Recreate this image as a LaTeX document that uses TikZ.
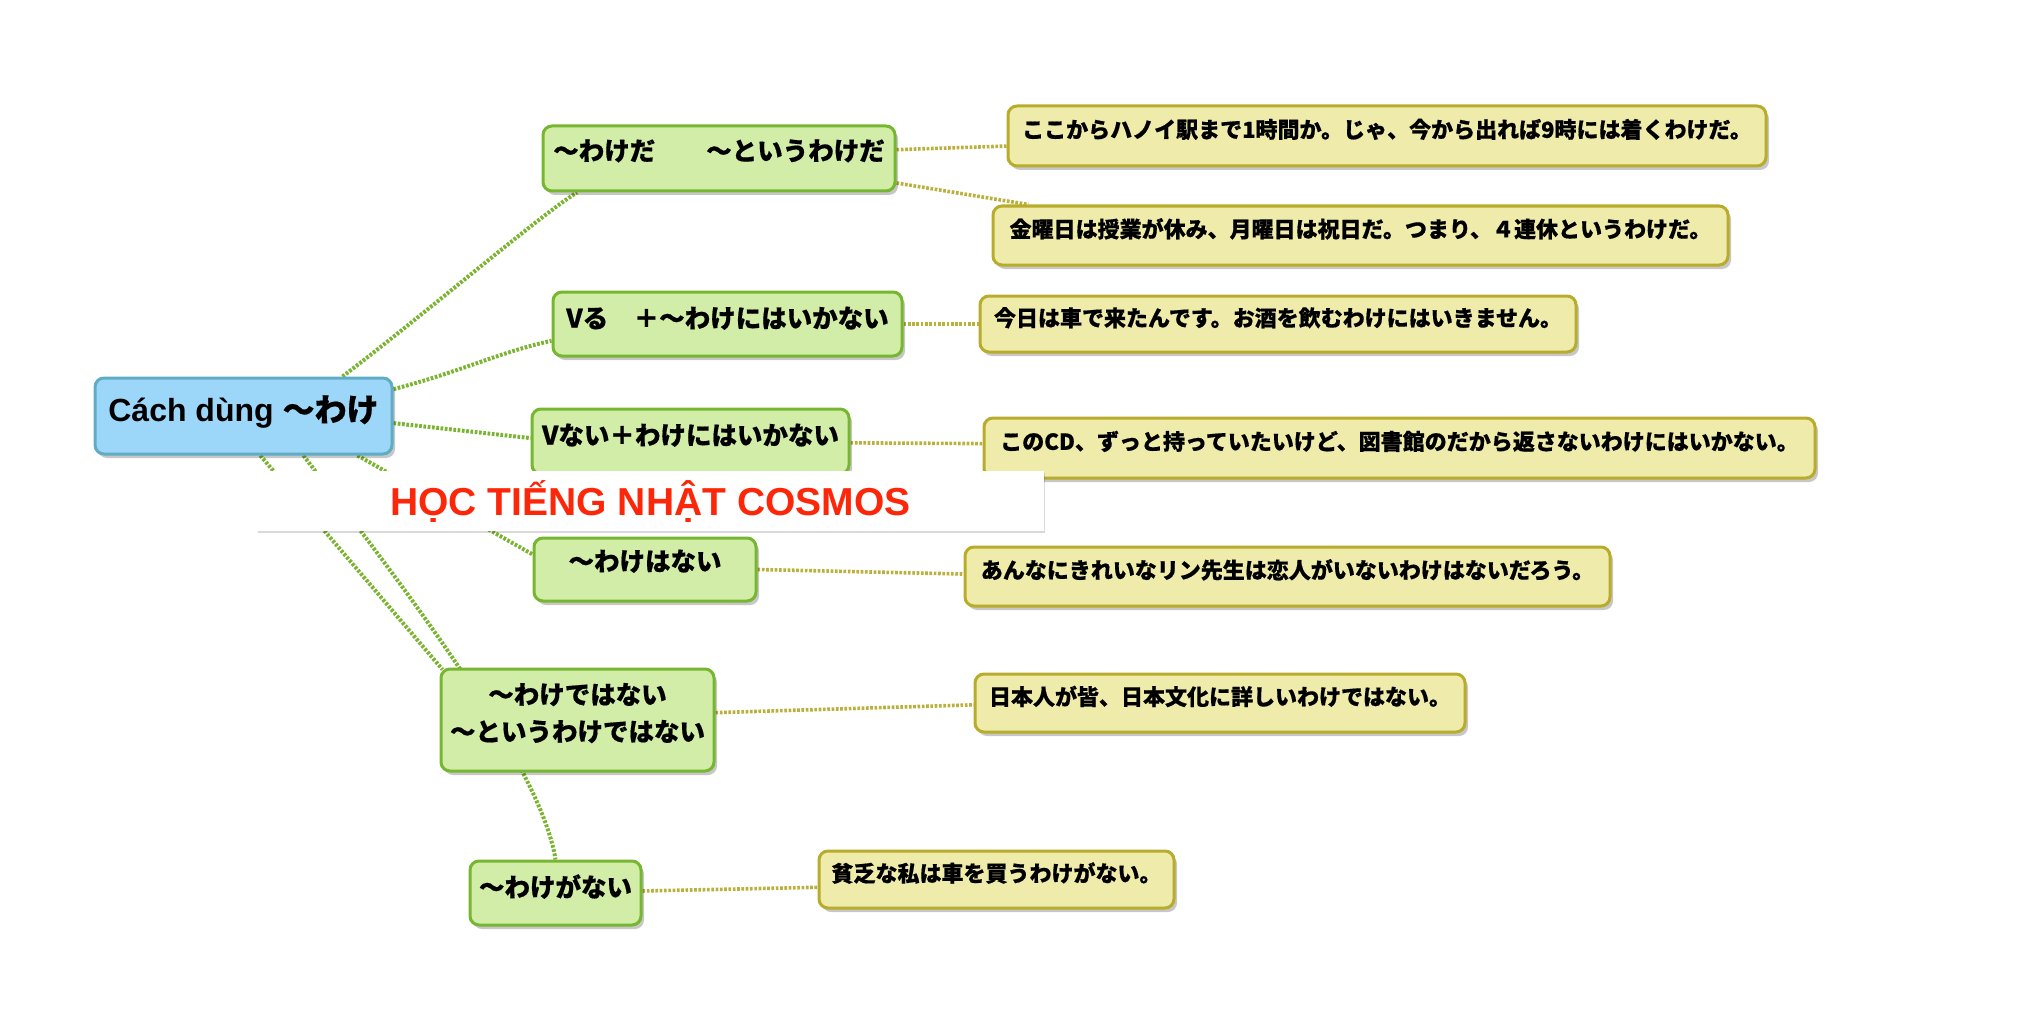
\documentclass[tikz,border=0pt]{standalone}
\usepackage{fontspec}
\setmainfont{Liberation Sans}
\newfontfamily\jp{Noto Sans CJK JP}[BoldFeatures={FakeBold=0.6}]
\usetikzlibrary{shadows,calc}
\definecolor{rootfill}{RGB}{156,215,249}
\definecolor{rootline}{RGB}{96,172,196}
\definecolor{gfill}{RGB}{210,237,168}
\definecolor{gline}{RGB}{118,182,48}
\definecolor{yfill}{RGB}{239,235,170}
\definecolor{yline}{RGB}{184,172,44}
\definecolor{glink}{RGB}{122,180,48}
\definecolor{ylink}{RGB}{186,176,60}
\definecolor{banred}{RGB}{252,38,8}
\pgfdeclarelayer{bg}
\pgfsetlayers{bg,main}
\begin{document}
\begin{tikzpicture}[x=0.5pt,y=-0.5pt,
  shad/.style={drop shadow={shadow xshift=1.5pt,shadow yshift=-2pt,fill=black,opacity=0.22}},
  rootbox/.style={draw=rootline,fill=rootfill,line width=1.5pt,rounded corners=4.5pt,inner sep=0pt,shad,font=\bfseries\fontsize{16}{19}\selectfont},
  catbox/.style={draw=gline,fill=gfill,line width=1.5pt,rounded corners=4.5pt,inner sep=0pt,shad,font=\jp\bfseries\fontsize{12.75}{15}\selectfont},
  exbox/.style={draw=yline,fill=yfill,line width=1.5pt,rounded corners=4.5pt,inner sep=0pt,shad,font=\jp\bfseries\fontsize{11}{13}\selectfont},
  glinkst/.style={draw=glink,line width=2pt,dash pattern=on 1.35pt off 0.8pt},
  ylinkst/.style={draw=ylink,line width=1.8pt,dash pattern=on 1.35pt off 0.8pt},
]
\useasboundingbox (0,0) rectangle (2036,1022);

% root
\node[rootbox,minimum width=148.5pt,text height=21.75pt,text depth=16.25pt] (root) at (243.5,416) {Cách dùng {\jp ～わけ}};

% categories
\node[catbox,minimum width=176pt,text height=17.15pt,text depth=15.35pt] (n1) at (719,158.5) {～わけだ　　～というわけだ};
\node[catbox,minimum width=174.5pt,text height=17.85pt,text depth=14.15pt] (n2) at (727.5,324) {Vる　＋～わけにはいかない};
\node[catbox,minimum width=158.5pt,text height=17.85pt,text depth=14.65pt] (n3) at (690.5,441.5) {Vない＋わけにはいかない};
\node[catbox,minimum width=111pt,text height=16.35pt,text depth=15.15pt] (n4) at (645,569.5) {～わけはない};
\node[catbox,minimum width=136.5pt,minimum height=51pt,align=center,font=\jp\bfseries\fontsize{12.75}{18.5}\selectfont] (n5) at (577.5,720) {～わけではない\\～というわけではない\rule[-8pt]{0pt}{8pt}};
\node[catbox,minimum width=85.5pt,text height=17.85pt,text depth=14.15pt] (n6) at (555.5,893) {～わけがない};

% examples
\node[exbox,minimum width=379pt,text height=15.9pt,text depth=14.1pt] (e1) at (1387,136) {ここからハノイ駅まで1時間か。じゃ、今から出れば9時には着くわけだ。};
\node[exbox,minimum width=367.5pt,text height=15.7pt,text depth=13.8pt] (e2) at (1360.5,235.5) {金曜日は授業が休み、月曜日は祝日だ。つまり、４連休というわけだ。};
\node[exbox,minimum width=298pt,text height=15.1pt,text depth=12.9pt] (e3) at (1278,324) {今日は車で来たんです。お酒を飲むわけにはいきません。};
\node[exbox,minimum width=415.5pt,text height=15.9pt,text depth=14.1pt] (e4) at (1399.5,448) {このCD、ずっと持っていたいけど、図書館のだから返さないわけにはいかない。};
\node[exbox,minimum width=322.5pt,text height=15.7pt,text depth=13.8pt] (e5) at (1287.5,576.5) {あんなにきれいなリン先生は恋人がいないわけはないだろう。};
\node[exbox,minimum width=245pt,text height=15.5pt,text depth=13.5pt] (e6) at (1220,703) {日本人が皆、日本文化に詳しいわけではない。};
\node[exbox,minimum width=177.5pt,text height=15.3pt,text depth=13.2pt] (e7) at (996.5,879.5) {貧乏な私は車を買うわけがない。};

\begin{pgfonlayer}{bg}
  % root to categories
  \draw[glinkst] ($(root.north west)!0.83!(root.north east)$) .. controls (430,310) and (540,215) .. ($(n1.south west)!0.1!(n1.south east)$);
  \draw[glinkst] ($(root.north east)!0.16!(root.south east)$) .. controls (460,372) and (500,352) .. ($(n2.north west)!0.75!(n2.south west)$);
  \draw[glinkst] ($(root.north east)!0.59!(root.south east)$) -- ($(n3.north west)!0.45!(n3.south west)$);
  \draw[glinkst] ($(root.south west)!0.88!(root.south east)$) -- ($(n4.north west)!0.27!(n4.south west)$);
  \draw[glinkst] ($(root.south west)!0.556!(root.south east)$) -- ($(n5.north west)+(3,2)$);
  \draw[glinkst] ($(root.south west)!0.70!(root.south east)$) .. controls (390,570) and (540,760) .. (n6.north);
  % categories to examples
  \draw[ylinkst] ($(n1.north east)!0.37!(n1.south east)$) -- ($(e1.north west)!0.66!(e1.south west)$);
  \draw[ylinkst] ($(n1.north east)!0.86!(n1.south east)$) -- ($(e2.north west)!0.05!(e2.north east)$);
  \draw[ylinkst] (n2.east) -- (e3.west);
  \draw[ylinkst] ($(n3.north east)!0.52!(n3.south east)$) -- ($(e4.north west)!0.43!(e4.south west)$);
  \draw[ylinkst] (n4.east) -- ($(e5.north west)!0.46!(e5.south west)$);
  \draw[ylinkst] ($(n5.north east)!0.43!(n5.south east)$) -- ($(e6.north west)!0.53!(e6.south west)$);
  \draw[ylinkst] ($(n6.north east)!0.47!(n6.south east)$) -- ($(e7.north west)!0.63!(e7.south west)$);
\end{pgfonlayer}

% banner
\node[fill=white,minimum width=393.5pt,minimum height=30pt,inner sep=0pt,text height=14pt,text depth=0pt,
  drop shadow={shadow xshift=0.5pt,shadow yshift=-1.2pt,fill=black,opacity=0.15},
  text=banred,font=\bfseries\fontsize{19.5}{22}\selectfont] (ban) at (650.5,501) {HỌC TIẾNG NHẬT COSMOS};
\end{tikzpicture}
\end{document}
